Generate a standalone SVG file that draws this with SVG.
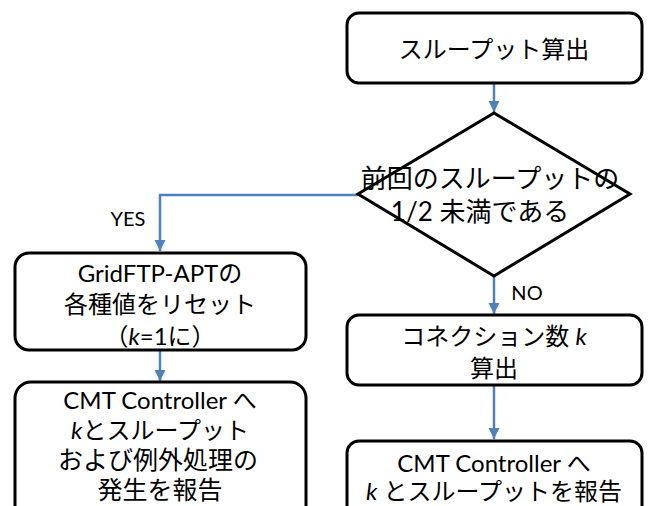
<svg xmlns="http://www.w3.org/2000/svg" width="648" height="506" viewBox="0 0 648 506">
<defs>
<style>
.node{fill:#fff;stroke:#000;stroke-width:3}
.t{font-family:"Lato","Noto Sans CJK JP",sans-serif;font-size:24px;fill:#000;text-anchor:middle;dominant-baseline:central}
.big{font-size:26px}
.mid{font-size:25px}
.lbl{font-family:"Lato","Noto Sans CJK JP",sans-serif;font-size:20px;fill:#000;text-anchor:middle;dominant-baseline:central}
.c{fill:none;stroke:#4F81BD;stroke-width:2.5}
.i{font-style:italic}
</style>
<marker id="ah" viewBox="0 0 10 10" refX="10" refY="5" markerWidth="4.5" markerHeight="4.5" orient="auto" markerUnits="strokeWidth">
<path d="M0,0 L10,5 L0,10 z" fill="#4F81BD"/>
</marker>
</defs>
<rect width="648" height="506" fill="#fff"/>
<g id="connectors">
<line class="c" x1="494" y1="83" x2="494" y2="112" marker-end="url(#ah)"/>
<polyline class="c" points="358,195 160,195 160,251" marker-end="url(#ah)"/>
<line class="c" x1="494" y1="276" x2="494" y2="314" marker-end="url(#ah)"/>
<line class="c" x1="160" y1="350" x2="160" y2="381" marker-end="url(#ah)"/>
<line class="c" x1="494" y1="385" x2="494" y2="439" marker-end="url(#ah)"/>
<text class="lbl" x="128" y="218">YES</text>
<text class="lbl" x="527" y="292">NO</text>
</g>
<g id="n1">
<rect class="node" x="347" y="13" width="295" height="70" rx="12"/>
<text class="t" x="494" y="48">スループット算出</text>
</g>
<g id="n2">
<polygon class="node" points="494,113 630,194 494,276 358,194"/>
<text class="t big" x="490" y="178">前回のスループットの</text>
<text class="t big" x="480" y="211">1/2 未満である</text>
</g>
<g id="n3">
<rect class="node" x="15" y="253" width="291" height="97" rx="14"/>
<text class="t" x="160" y="272">GridFTP-APTの</text>
<text class="t" x="160" y="303">各種値をリセット</text>
<text class="t" x="160" y="335">（<tspan class="i">k</tspan>=1に）</text>
</g>
<g id="n4">
<rect class="node" x="15" y="382" width="291" height="140" rx="16"/>
<text class="t" x="160" y="399">CMT Controller へ</text>
<text class="t" x="160" y="429"><tspan class="i">k</tspan>とスループット</text>
<text class="t mid" x="158" y="459">および例外処理の</text>
<text class="t mid" x="160" y="489">発生を報告</text>
</g>
<g id="n5">
<rect class="node" x="347" y="315" width="295" height="70" rx="12"/>
<text class="t" x="494" y="335">コネクション数 <tspan class="i">k</tspan></text>
<text class="t" x="494" y="367">算出</text>
</g>
<g id="n6">
<rect class="node" x="347" y="441" width="295" height="80" rx="12"/>
<text class="t" x="494" y="462">CMT Controller へ</text>
<text class="t" x="494" y="490"><tspan class="i">k</tspan> とスループットを報告</text>
</g>
</svg>
